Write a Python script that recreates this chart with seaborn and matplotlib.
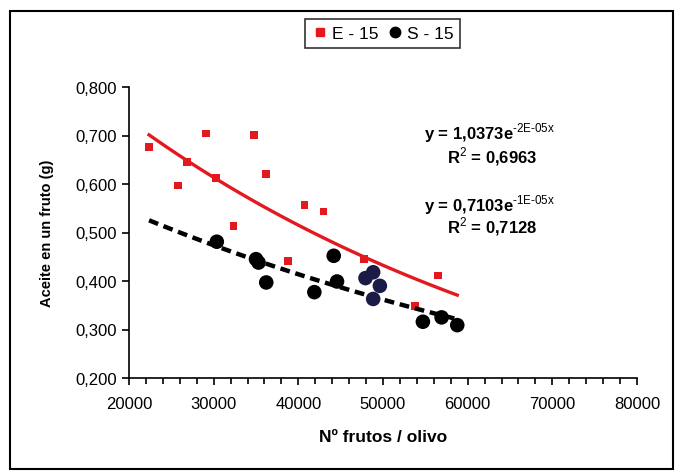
import numpy as np
import pandas as pd
import matplotlib
matplotlib.use("Agg")
import matplotlib.pyplot as plt
from matplotlib.lines import Line2D
from matplotlib.patches import Rectangle
from matplotlib.ticker import MultipleLocator, FuncFormatter
import seaborn as sns

# E - 15 (red squares)
e15_frutos = [22370, 25760, 26830, 29070, 30300, 32350, 34750, 36170, 38780,
              40750, 42960, 47730, 53760, 56530]
e15_aceite = [0.676, 0.597, 0.645, 0.704, 0.612, 0.514, 0.701, 0.621, 0.441,
              0.557, 0.543, 0.445, 0.348, 0.411]

# S - 15 (black circles, a few dark navy ones)
s15_frutos = [30370, 35000, 35300, 36210, 41890, 44180, 44570, 47930, 48840,
              49630, 48840, 54710, 56920, 58770]
s15_aceite = [0.481, 0.445, 0.438, 0.397, 0.377, 0.452, 0.399, 0.406, 0.418,
              0.390, 0.363, 0.316, 0.325, 0.309]
s15_tono = ["negro", "negro", "negro", "negro", "negro", "negro", "negro",
            "azul", "azul", "azul", "azul", "negro", "negro", "negro"]

# trend lines as shown in the chart (a * exp(-b x))
e15_a, e15_b = 1.0373, 1.75e-05
s15_a, s15_b = 0.7103, 1.35e-05
e15_ecuacion = ["y = 1,0373e", "-2E-05x", "0,6963"]
s15_ecuacion = ["y = 0,7103e", "-1E-05x", "0,7128"]

rojo = "#e3191f"

plt.rcParams["font.family"] = ["Liberation Sans", "DejaVu Sans"]
plt.rcParams["mathtext.fontset"] = "custom"
plt.rcParams["mathtext.rm"] = "Liberation Sans"
plt.rcParams["mathtext.bf"] = "Liberation Sans:bold"

fig = plt.figure(figsize=(6.76, 4.77), dpi=100)
ax = fig.add_axes([129 / 676, 1 - 379 / 477, (637 - 129) / 676, (379 - 88) / 477])

e15_df = pd.DataFrame({"frutos": e15_frutos, "aceite": e15_aceite})
s15_df = pd.DataFrame({"frutos": s15_frutos, "aceite": s15_aceite, "tono": s15_tono})

# trend lines
xe = np.linspace(min(e15_frutos), max(s15_frutos), 100)
xs = np.linspace(min(e15_frutos), max(s15_frutos), 100)
ax.plot(xe, e15_a * np.exp(-e15_b * xe), color=rojo, lw=2.4, zorder=3)
ax.plot(xs, s15_a * np.exp(-s15_b * xs), color="black", lw=3.2,
        dashes=(2.2, 1.3), zorder=3)

sns.scatterplot(data=e15_df, x="frutos", y="aceite", marker="s", s=30,
                color=rojo, edgecolor="none", ax=ax, zorder=2)
sns.scatterplot(data=s15_df, x="frutos", y="aceite", hue="tono",
                palette={"negro": "black", "azul": "#1b1b45"}, s=110,
                edgecolor="none", legend=False, ax=ax, zorder=4)

ax.set_xlim(20000, 80000)
ax.set_ylim(0.2, 0.8)
ax.xaxis.set_major_locator(MultipleLocator(10000))
ax.xaxis.set_minor_locator(MultipleLocator(2000))
ax.yaxis.set_major_locator(MultipleLocator(0.1))
ax.yaxis.set_major_formatter(FuncFormatter(lambda v, p: f"{v:.3f}".replace(".", ",")))
ax.tick_params(axis="both", which="major", direction="out", length=5, width=1.2,
               labelsize=12, colors="black", pad=4)
ax.tick_params(axis="x", which="major", pad=8)
ax.tick_params(axis="x", which="minor", direction="out", length=4, width=1.2)
for side in ["top", "right"]:
    ax.spines[side].set_visible(False)
for side in ["left", "bottom"]:
    ax.spines[side].set_linewidth(1.2)
    ax.spines[side].set_color("black")

ax.set_xlabel("Nº frutos / olivo", fontsize=12.5, fontweight="bold", labelpad=13)
ax.set_ylabel("Aceite en un fruto (g)", fontsize=10.5, fontweight="bold", labelpad=15)

# equations
for (eq, sup, r2), y1, y2 in [(e15_ecuacion, 133, 157), (s15_ecuacion, 205, 227)]:
    fig.text(490 / 676, 1 - y1 / 477, eq + r"$^{\text{" + sup + "}}$",
             ha="center", va="center", fontsize=12, fontweight="bold")
    fig.text(492 / 676, 1 - y2 / 477, r"R$^{\text{2}}$ = " + r2,
             ha="center", va="center", fontsize=12, fontweight="bold")

handles = [Line2D([], [], marker="s", color=rojo, ls="none", markersize=6),
           Line2D([], [], marker="o", color="black", ls="none", markersize=7.5)]
leg = fig.legend(handles, ["E - 15", "S - 15"], loc="center",
                 bbox_to_anchor=(382.5 / 676, 1 - 34.5 / 477), ncol=2, fontsize=12.5,
                 frameon=True, fancybox=False, edgecolor="black",
                 handletextpad=0.2, columnspacing=0.4, handlelength=1.0,
                 borderpad=0.4, borderaxespad=0)
leg.get_frame().set_linewidth(1.2)

fig.patches.append(Rectangle((10 / 676, 1 - 470 / 477), 663 / 676, 458 / 477,
                             transform=fig.transFigure, fill=False,
                             edgecolor="black", lw=1.5))

fig.savefig("out.png", dpi=100)
